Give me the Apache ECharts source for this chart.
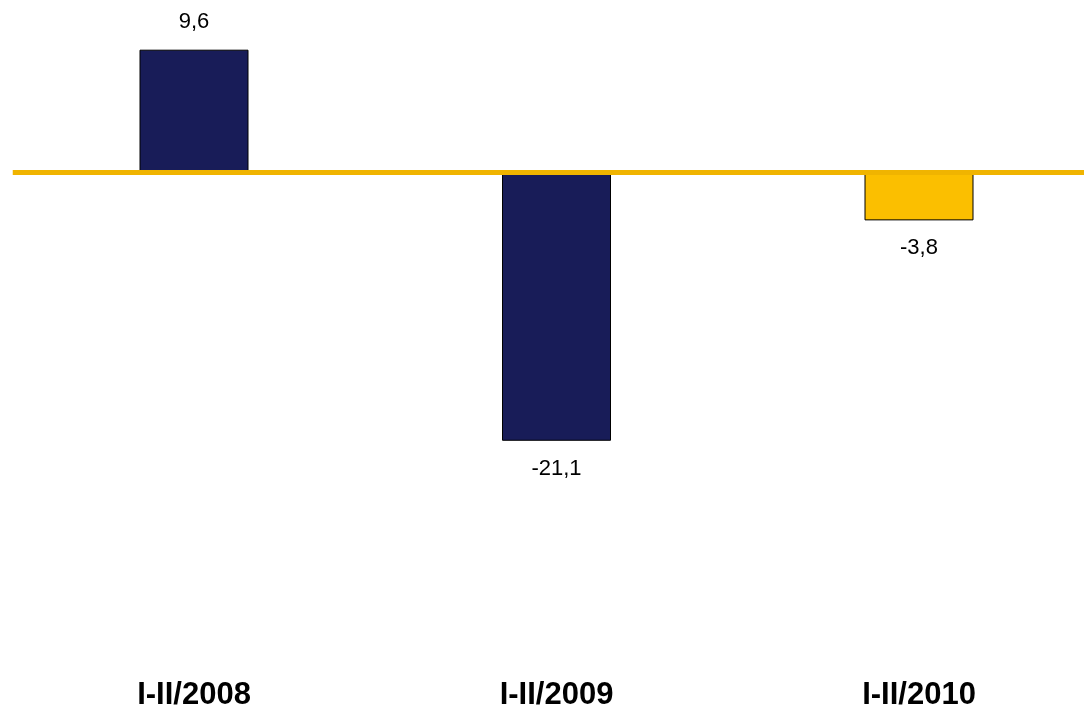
<!DOCTYPE html>
<html>
<head>
<meta charset="utf-8">
<script src="https://cdn.jsdelivr.net/npm/echarts@6/dist/echarts.min.js"></script>
<style>html,body{margin:0;padding:0;background:#fff;}#c{width:1084px;height:710px;}</style>
</head>
<body>
<div id="c"></div>
<script>
var categories = ['I-II/2008', 'I-II/2009', 'I-II/2010'];
var values = [9.6, -21.1, -3.8];
var barColors = ['#181c58', '#181c58', '#fbbf00'];

var chart = echarts.init(document.getElementById('c'));
var data = values.map(function (v, i) {
  return {
    value: v,
    itemStyle: { color: barColors[i] },
    label: { position: v >= 0 ? 'top' : 'bottom' }
  };
});
chart.setOption({
  animation: false,
  grid: { left: 12.75, width: 1087.5, top: 19.1, height: 611.5, containLabel: false, outerBoundsMode: 'none' },
  xAxis: {
    type: 'category',
    data: categories,
    axisLine: { show: false, onZero: false },
    axisTick: { show: false },
    axisLabel: { margin: 49, fontFamily: 'Liberation Sans, Arial, sans-serif', fontWeight: 'bold', fontSize: 31, color: '#000' },
    splitLine: { show: false }
  },
  yAxis: {
    type: 'value', min: -36, max: 12, show: false, splitLine: { show: false }
  },
  series: [{
    type: 'bar',
    data: data,
    barWidth: 109,
    itemStyle: { borderColor: '#000', borderWidth: 1 },
    label: {
      show: true,
      distance: 17,
      fontFamily: 'Liberation Sans, Arial, sans-serif',
      fontSize: 22,
      color: '#000',
      formatter: function (p) { return String(p.value).replace('.', ','); }
    },
    markLine: {
      silent: true,
      symbol: 'none',
      label: { show: false },
      lineStyle: { color: '#f0b400', width: 5, type: 'solid' },
      data: [{ yAxis: 0 }]
    }
  }]
});
</script>
</body>
</html>
